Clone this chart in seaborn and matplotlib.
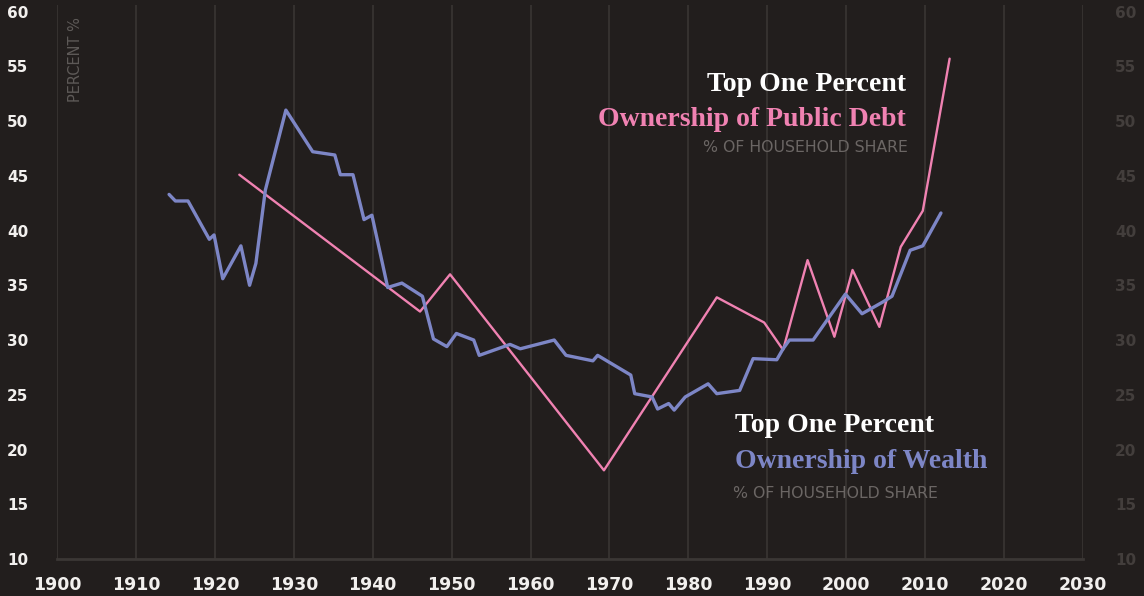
import matplotlib
matplotlib.use("Agg")
import matplotlib.pyplot as plt
import seaborn as sns
import pandas as pd

# ---- data ----
wealth_years = [1914.2, 1915.0, 1916.6, 1919.3, 1919.9, 1921.0, 1923.3, 1924.4, 1925.2, 1926.4,
                1929.0, 1932.4, 1935.2, 1935.9, 1937.5, 1938.9, 1939.9, 1941.9, 1943.7, 1946.3,
                1947.7, 1949.4, 1950.6, 1952.8, 1953.5, 1957.4, 1958.7, 1963.0, 1964.5, 1967.9,
                1968.5, 1972.7, 1973.2, 1975.4, 1976.1, 1977.5, 1978.2, 1979.6, 1982.5, 1983.6,
                1986.5, 1988.2, 1991.2, 1992.0, 1992.8, 1995.8, 1999.9, 2002.0, 2004.7, 2005.8,
                2008.1, 2009.7, 2012.0]
wealth_share = [43.3, 42.7, 42.7, 39.2, 39.6, 35.6, 38.6, 35.0, 37.0, 43.7,
                51.0, 47.2, 46.9, 45.1, 45.1, 41.0, 41.4, 34.8, 35.2, 34.0,
                30.1, 29.4, 30.6, 30.0, 28.6, 29.6, 29.2, 30.0, 28.6, 28.1,
                28.6, 26.8, 25.1, 24.8, 23.7, 24.2, 23.6, 24.8, 26.0, 25.1,
                25.4, 28.3, 28.2, 29.2, 30.0, 30.0, 34.2, 32.4, 33.5, 34.0,
                38.2, 38.6, 41.6]

debt_years = [1923.1, 1946.0, 1949.8, 1969.3, 1983.6, 1989.6, 1992.0, 1995.1, 1998.5,
              2000.8, 2004.2, 2006.9, 2009.7, 2013.1]
debt_share = [45.1, 32.6, 36.0, 18.1, 33.9, 31.6, 29.1, 37.3, 30.3,
              36.4, 31.2, 38.5, 41.8, 55.7]

x_ticks = list(range(1900, 2031, 10))
y_ticks = list(range(10, 61, 5))

# ---- style ----
BG = "#221e1d"
GRID = "#3b3735"
BLUE = "#7d86c6"
PINK = "#f082b2"

sns.set_theme(style="dark", rc={"axes.facecolor": BG, "figure.facecolor": BG})
plt.rcParams["font.family"] = ["DejaVu Sans"]

fig = plt.figure(figsize=(11.44, 5.96), dpi=100)
ax = fig.add_axes([57 / 1144, 37 / 596, (1083 - 57) / 1144, (559 - 5) / 596])
ax.set_facecolor(BG)

wealth_df = pd.DataFrame({"year": wealth_years, "share": wealth_share})
debt_df = pd.DataFrame({"year": debt_years, "share": debt_share})

sns.lineplot(data=debt_df, x="year", y="share", ax=ax, color=PINK, linewidth=1.7,
             sort=False, estimator=None, zorder=3)
sns.lineplot(data=wealth_df, x="year", y="share", ax=ax, color=BLUE, linewidth=2.4,
             sort=False, estimator=None, zorder=4)

ax.set_xlim(1900, 2030)
ax.set_ylim(10, 60.6)
ax.set_xlabel("")
ax.set_ylabel("")

# vertical grid
for xt in x_ticks:
    ax.axvline(xt, color=GRID, linewidth=1.1, zorder=1)
ax.grid(False)

for s in ["top", "left", "right"]:
    ax.spines[s].set_visible(False)
ax.spines["bottom"].set_color(GRID)
ax.spines["bottom"].set_linewidth(2)

ax.set_xticks(x_ticks)
ax.set_xticklabels([str(t) for t in x_ticks], fontsize=12.5, color="#f2f0ee",
                   fontweight="bold")
ax.tick_params(axis="x", length=0, pad=12)

ax.set_yticks(y_ticks)
ax.set_yticklabels([str(t) for t in y_ticks], fontsize=11, color="#f2f0ee",
                   fontweight="bold")
ax.tick_params(axis="y", length=0, pad=36)
for lbl in ax.get_yticklabels():
    lbl.set_horizontalalignment("left")

# right-side dim labels
ax2 = ax.twinx()
ax2.set_ylim(ax.get_ylim())
ax2.set_yticks(y_ticks)
ax2.set_yticklabels([str(t) for t in y_ticks], fontsize=11, color="#433e3c",
                    fontweight="bold")
ax2.tick_params(axis="y", length=0, pad=23)
for s in ax2.spines.values():
    s.set_visible(False)
ax2.grid(False)

# axis caption
fig.text(75 / 1144, 1 - 60 / 596, "PERCENT %", rotation=90, ha="center", va="center",
         fontsize=10.5, color="#5e5a58")

serif = ["Liberation Serif", "DejaVu Serif"]

# legend block 1 (public debt)
fig.text(906 / 1144, 1 - 85 / 596, "Top One Percent", ha="right", va="center",
         fontsize=20, color="white", family=serif, fontweight="bold")
fig.text(906 / 1144, 1 - 119 / 596, "Ownership of Public Debt", ha="right", va="center",
         fontsize=20, color=PINK, family=serif, fontweight="bold")
fig.text(908 / 1144, 1 - 148 / 596, "% OF HOUSEHOLD SHARE", ha="right", va="center",
         fontsize=11.3, color="#6b6664")

# legend block 2 (wealth)
fig.text(735 / 1144, 1 - 426 / 596, "Top One Percent", ha="left", va="center",
         fontsize=20, color="white", family=serif, fontweight="bold")
fig.text(735 / 1144, 1 - 461 / 596, "Ownership of Wealth", ha="left", va="center",
         fontsize=20, color=BLUE, family=serif, fontweight="bold")
fig.text(733 / 1144, 1 - 493 / 596, "% OF HOUSEHOLD SHARE", ha="left", va="center",
         fontsize=11.3, color="#6b6664")

fig.savefig("out.png", dpi=100, facecolor=BG)
